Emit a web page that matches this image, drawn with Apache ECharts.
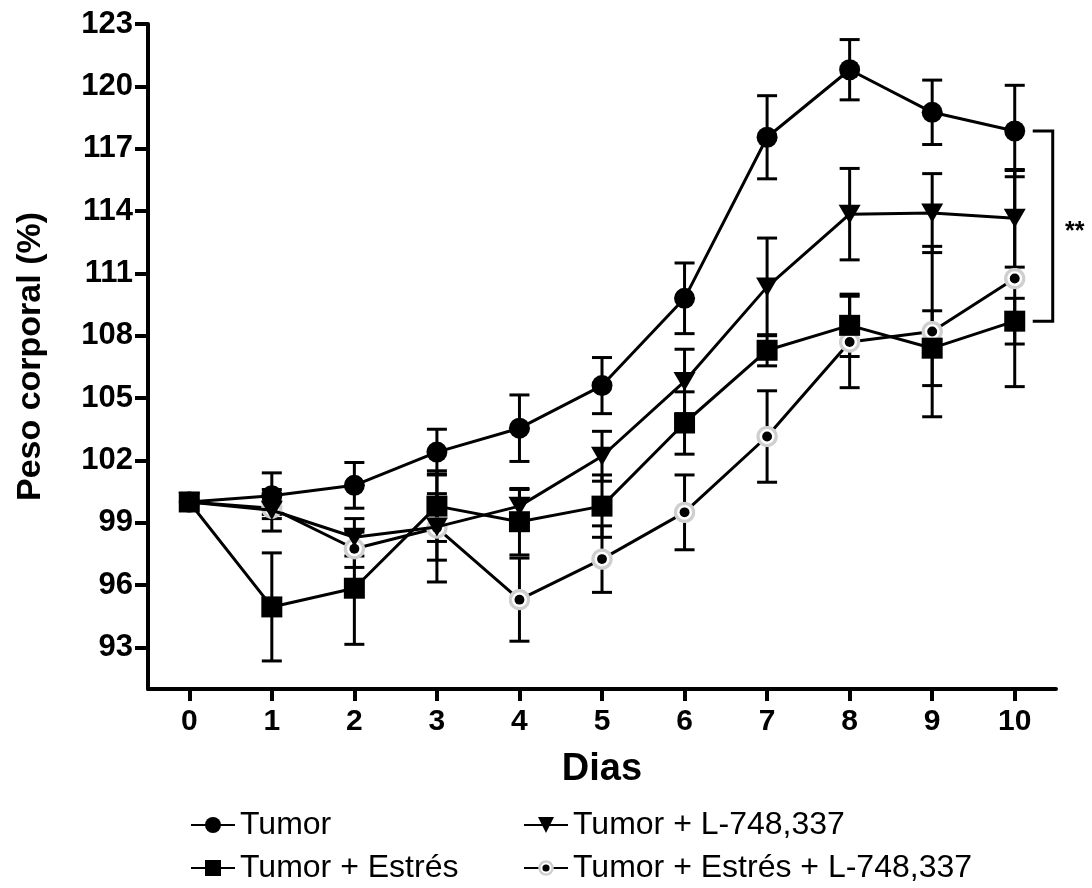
<!DOCTYPE html>
<html>
<head>
<meta charset="utf-8">
<script src="https://cdn.jsdelivr.net/npm/echarts@6/dist/echarts.min.js"></script>
<style>
  html, body { margin: 0; padding: 0; background: #fff; }
  #chart { width: 1092px; height: 888px; }
</style>
</head>
<body>
<div id="chart"></div>
<script>
// dias del experimento
var days = [0, 1, 2, 3, 4, 5, 6, 7, 8, 9, 10];
var yTicks = [93, 96, 99, 102, 105, 108, 111, 114, 117, 120, 123];

// peso corporal (%) - media y error
var tumor      = [100, 100.3, 100.8, 102.4, 103.55, 105.6, 109.8, 117.55, 120.8, 118.75, 117.85];
var tumorSE    = [0, 1.1, 1.1, 1.1, 1.6, 1.35, 1.7, 2.0, 1.45, 1.55, 2.2];
var estres     = [100, 94.95, 95.85, 99.8, 99.05, 99.8, 103.8, 107.3, 108.5, 107.4, 108.7];
var estresSE   = [0, 2.6, 2.7, 1.7, 1.6, 1.5, 1.5, 0.75, 1.5, 1.8, 1.1];
var lTumor     = [100, 99.6, 98.3, 98.8, 99.8, 102.2, 105.8, 110.35, 113.85, 113.9, 113.65];
var lTumorSE   = [0, 1.0, 0.9, 1.6, 0.8, 1.2, 1.55, 2.35, 2.2, 1.9, 2.35];
var lEstres    = [100, 99.7, 97.75, 98.75, 95.3, 97.25, 99.5, 103.15, 107.7, 108.2, 110.75];
var lEstresSE  = [0, 0.3, 0.9, 2.6, 2.0, 1.6, 1.8, 2.2, 2.2, 4.1, 5.2];

var names = ['Tumor', 'Tumor + Estrés', 'Tumor + L-748,337', 'Tumor + Estrés + L-748,337'];

var FONT = '"Liberation Sans", Arial, sans-serif';

var graySvg = "<svg xmlns='http://www.w3.org/2000/svg' width='40' height='40' viewBox='0 0 40 40'>" +
  "<circle cx='20' cy='20' r='16.5' fill='#fff' stroke='#cfcfcf' stroke-width='6'/>" +
  "<circle cx='20' cy='20' r='9' fill='#000'/></svg>";
var graySymbol = 'image://data:image/svg+xml;charset=utf-8,' + encodeURIComponent(graySvg);
var downTri = 'path://M0,0 L20,0 L10,18 Z';

function pairs(arr) {
  return days.map(function (d, i) { return [d, arr[i]]; });
}
function errData(mean, se) {
  return days.map(function (d, i) { return [d, mean[i] - se[i], mean[i] + se[i]]; });
}

function renderErr(params, api) {
  var x = api.value(0);
  if (api.value(1) === api.value(2)) return null;
  var lo = api.coord([x, api.value(1)]);
  var hi = api.coord([x, api.value(2)]);
  var w = 10;
  var st = { stroke: '#000', lineWidth: 3 };
  return {
    type: 'group',
    children: [
      { type: 'line', shape: { x1: lo[0], y1: lo[1], x2: hi[0], y2: hi[1] }, style: st },
      { type: 'line', shape: { x1: lo[0] - w, y1: lo[1], x2: lo[0] + w, y2: lo[1] }, style: st },
      { type: 'line', shape: { x1: hi[0] - w, y1: hi[1], x2: hi[0] + w, y2: hi[1] }, style: st }
    ]
  };
}

function errSeries(mean, se, z) {
  return {
    type: 'custom',
    renderItem: renderErr,
    data: errData(mean, se),
    encode: { x: 0, y: [1, 2] },
    z: z,
    silent: true
  };
}

function lineSeries(name, data, symbol, size, z) {
  return {
    name: name,
    type: 'line',
    data: pairs(data),
    symbol: symbol,
    symbolSize: size,
    showAllSymbol: true,
    lineStyle: { color: '#000', width: 3 },
    itemStyle: { color: '#000' },
    z: z,
    animation: false
  };
}

// corchete de significancia entre Tumor y Tumor + Estrés en el dia 10
var bracket = {
  type: 'custom',
  silent: true,
  z: 10,
  data: [[10, tumor[10], estres[10]]],
  encode: { x: 0, y: [1, 2] },
  renderItem: function (params, api) {
    var top = api.coord([api.value(0), api.value(1)]);
    var bot = api.coord([api.value(0), api.value(2)]);
    var x1 = top[0] + 18, x2 = top[0] + 38;
    return {
      type: 'group',
      children: [
        { type: 'polyline', shape: { points: [[x1, top[1]], [x2, top[1]], [x2, bot[1]], [x1, bot[1]]] },
          style: { stroke: '#000', lineWidth: 3, fill: null } },
        { type: 'text', style: { text: '**', x: x2 + 22, y: (top[1] + bot[1]) / 2 + 6,
          font: 'bold 25px ' + FONT, fill: '#000', align: 'center', verticalAlign: 'middle' } }
      ]
    };
  }
};

function legendItem(name, left, top) {
  return {
    data: [name], left: left, top: top,
    itemWidth: 44, itemHeight: 20, selectedMode: false,
    textStyle: { fontSize: 32, fontFamily: FONT, color: '#000' }
  };
}

var option = {
  backgroundColor: '#fff',
  animation: false,
  grid: { left: 148, right: 36, top: 24, bottom: 199, containLabel: false },
  legend: [
    legendItem(names[0], 185, 804),
    legendItem(names[1], 185, 847),
    legendItem(names[2], 518, 804),
    legendItem(names[3], 518, 847)
  ],
  xAxis: {
    type: 'value',
    min: -0.5,
    max: 10.5,
    name: 'Dias',
    nameLocation: 'middle',
    nameGap: 62,
    nameTextStyle: { fontSize: 38, fontWeight: 'bold', fontFamily: FONT, color: '#000' },
    axisLine: { onZero: false, lineStyle: { color: '#000', width: 4 } },
    axisTick: { length: 12, lineStyle: { color: '#000', width: 4 }, customValues: days },
    axisLabel: { customValues: days, margin: 18, fontSize: 30, fontWeight: 'bold',
      fontFamily: FONT, color: '#000' },
    splitLine: { show: false }
  },
  yAxis: {
    type: 'value',
    min: 91,
    max: 123,
    name: 'Peso corporal (%)',
    nameLocation: 'middle',
    nameGap: 100,
    nameTextStyle: { fontSize: 34, fontWeight: 'bold', fontFamily: FONT, color: '#000' },
    axisLine: { show: true, onZero: false, lineStyle: { color: '#000', width: 4 } },
    axisTick: { show: true, length: 13, lineStyle: { color: '#000', width: 4 }, customValues: yTicks },
    axisLabel: { customValues: yTicks, margin: 15, fontSize: 31, fontWeight: 'bold',
      fontFamily: FONT, color: '#000' },
    splitLine: { show: false }
  },
  series: [
    errSeries(lEstres, lEstresSE, 1),
    errSeries(estres, estresSE, 1),
    errSeries(lTumor, lTumorSE, 1),
    errSeries(tumor, tumorSE, 1),
    lineSeries(names[3], lEstres, graySymbol, 22, 2),
    lineSeries(names[2], lTumor, downTri, [22, 19], 3),
    lineSeries(names[1], estres, 'rect', 21, 4),
    lineSeries(names[0], tumor, 'circle', 21, 5),
    bracket
  ]
};

var myChart = echarts.init(document.getElementById('chart'));
myChart.setOption(option);
window.addEventListener('resize', function () {
  myChart.resize();
}, false);
</script>
</body>
</html>
